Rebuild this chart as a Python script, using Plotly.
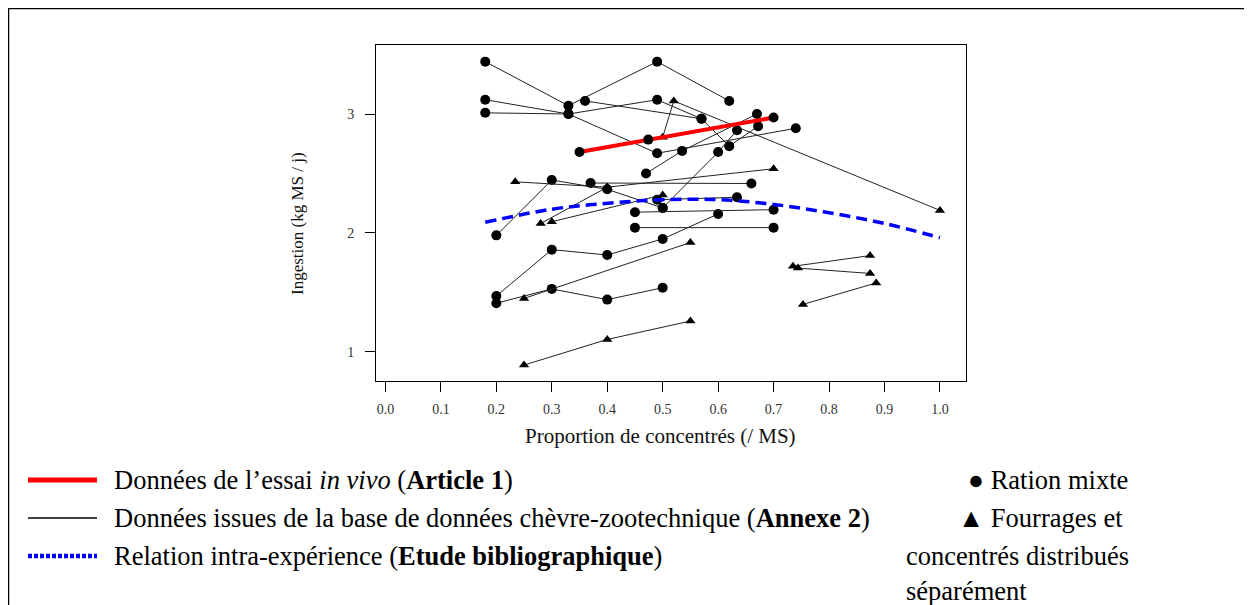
import plotly.graph_objects as go

# page is offset by the 8px body margin; figure fills the rest
OFF = 8
W, H = 1244, 597

# ---------------- data ----------------
# Ration mixte (circles) experiments
mix_a_x = [0.18, 0.33, 0.49, 0.62];             mix_a_y = [3.44, 3.07, 3.44, 3.11]
mix_b_x = [0.18, 0.33, 0.49, 0.74];             mix_b_y = [3.12, 3.00, 2.67, 2.88]
mix_c_x = [0.18, 0.33, 0.49, 0.57, 0.62, 0.672]; mix_c_y = [3.01, 3.00, 3.12, 2.96, 2.73, 2.897]
mix_d_x = [0.36, 0.57];                         mix_d_y = [3.11, 2.96]
mix_e_x = [0.47, 0.535, 0.67];                  mix_e_y = [2.50, 2.69, 3.00]
mix_f_x = [0.50, 0.60, 0.634];                  mix_f_y = [2.21, 2.68, 2.864]
mix_h_x = [0.20, 0.30, 0.40, 0.50, 0.60];       mix_h_y = [1.47, 1.86, 1.815, 1.95, 2.16]
mix_i_x = [0.20, 0.30, 0.40, 0.50];             mix_i_y = [1.41, 1.53, 1.44, 1.54]
mix_j_x = [0.20, 0.30, 0.40, 0.50];             mix_j_y = [1.98, 2.445, 2.367, 2.21]
mix_k_x = [0.37, 0.66];                         mix_k_y = [2.42, 2.416]
mix_l_x = [0.45, 0.70];                         mix_l_y = [2.175, 2.196]
mix_m_x = [0.45, 0.70];                         mix_m_y = [2.045, 2.045]
mix_n_x = [0.49, 0.634];                        mix_n_y = [2.28, 2.30]

# Fourrages et concentres distribues separement (triangles)
sep_a_x = [0.25, 0.40, 0.55];       sep_a_y = [0.89, 1.105, 1.26]
sep_b_x = [0.25, 0.55];             sep_b_y = [1.45, 1.92]
sep_c_x = [0.50, 0.52, 1.00];       sep_c_y = [2.805, 3.11, 2.19]
sep_d_x = [0.234, 0.40];            sep_d_y = [2.43, 2.385]
sep_e_x = [0.28, 0.40, 0.70];       sep_e_y = [2.08, 2.385, 2.54]
sep_f_x = [0.30, 0.50];             sep_f_y = [2.095, 2.32]
sep_h_x = [0.735, 0.874];           sep_h_y = [1.72, 1.81]
sep_i_x = [0.744, 0.874];           sep_i_y = [1.705, 1.66]
sep_j_x = [0.753, 0.885];           sep_j_y = [1.40, 1.58]

# Article 1 (in vivo trial)
art_x = [0.35, 0.474, 0.70]; art_y = [2.68, 2.785, 2.97]

# Intra-experiment relation (bibliographic study)
rel_x = [0.18, 0.30, 0.40, 0.50, 0.60, 0.70, 0.80, 0.90, 1.00]
rel_y = [2.09, 2.20, 2.25, 2.28, 2.28, 2.24, 2.17, 2.08, 1.96]

x_ticks = [0.0, 0.1, 0.2, 0.3, 0.4, 0.5, 0.6, 0.7, 0.8, 0.9, 1.0]
x_tick_text = ["0.0", "0.1", "0.2", "0.3", "0.4", "0.5", "0.6", "0.7", "0.8", "0.9", "1.0"]
y_ticks = [1, 2, 3]

mix_series = [(mix_a_x, mix_a_y), (mix_b_x, mix_b_y), (mix_c_x, mix_c_y), (mix_d_x, mix_d_y),
              (mix_e_x, mix_e_y), (mix_f_x, mix_f_y), (mix_h_x, mix_h_y),
              (mix_i_x, mix_i_y), (mix_j_x, mix_j_y), (mix_k_x, mix_k_y), (mix_l_x, mix_l_y),
              (mix_m_x, mix_m_y), (mix_n_x, mix_n_y)]
sep_series = [(sep_a_x, sep_a_y), (sep_b_x, sep_b_y), (sep_c_x, sep_c_y), (sep_d_x, sep_d_y),
              (sep_e_x, sep_e_y), (sep_f_x, sep_f_y), (sep_h_x, sep_h_y),
              (sep_i_x, sep_i_y), (sep_j_x, sep_j_y)]

# ---------------- layout helpers (page pixels -> paper) ----------------
def px(x):
    return (x - OFF) / W

def py(y):
    return 1 - (y - OFF) / H

PL, PR, PT, PB = 376, 966, 45, 381
SERIF = "Liberation Serif, Times New Roman, serif"

fig = go.Figure()

for sx, sy in mix_series:
    fig.add_trace(go.Scatter(x=sx, y=sy, mode="lines+markers",
                             line=dict(color="#222222", width=1),
                             marker=dict(symbol="circle", size=10, color="black"),
                             showlegend=False, hoverinfo="skip"))
for sx, sy in sep_series:
    fig.add_trace(go.Scatter(x=sx, y=sy, mode="lines+markers",
                             line=dict(color="#222222", width=1),
                             marker=dict(symbol="triangle-up", size=9, color="black"),
                             showlegend=False, hoverinfo="skip"))

fig.add_trace(go.Scatter(x=art_x, y=art_y, mode="lines",
                         line=dict(color="#ff0000", width=4),
                         showlegend=False, hoverinfo="skip"))
fig.add_trace(go.Scatter(x=art_x, y=art_y, mode="markers",
                         marker=dict(symbol="circle", size=10, color="black"),
                         showlegend=False, hoverinfo="skip"))
fig.add_trace(go.Scatter(x=rel_x, y=rel_y, mode="lines", line_shape="spline",
                         line=dict(color="#0000ff", width=3.5, dash="11px,6px"),
                         showlegend=False, hoverinfo="skip"))

fig.update_layout(
    width=W, height=H,
    margin=dict(l=0, r=0, t=0, b=0),
    paper_bgcolor="white", plot_bgcolor="white",
    showlegend=False,
    xaxis=dict(domain=[px(PL), px(PR)], range=[-0.017, 1.047],
               tickvals=x_ticks, ticktext=x_tick_text,
               ticks="outside", ticklen=10, tickcolor="black", tickwidth=1,
               showline=True, mirror=True, linecolor="black", linewidth=1,
               showgrid=False, zeroline=False,
               tickfont=dict(family=SERIF, size=14, color="#333333"),
               ticklabelstandoff=5),
    yaxis=dict(domain=[py(PB), py(PT)], range=[0.756, 3.58],
               tickvals=y_ticks, ticks="outside", ticklen=10, tickcolor="black", tickwidth=1,
               showline=True, mirror=True, linecolor="black", linewidth=1,
               showgrid=False, zeroline=False,
               tickfont=dict(family=SERIF, size=14, color="#333333"),
               ticklabelstandoff=8),
)

ann = []
ann.append(dict(x=px(660), y=py(436), xref="paper", yref="paper", text="Proportion de concentrés (/ MS)",
                showarrow=False, font=dict(family=SERIF, size=21, color="#111111"),
                xanchor="center", yanchor="middle"))
ann.append(dict(x=px(297), y=py(224), xref="paper", yref="paper", text="Ingestion (kg MS / j)",
                showarrow=False, textangle=-90, font=dict(family=SERIF, size=17, color="#111111"),
                xanchor="center", yanchor="middle"))

LF = 26.5
def legend_text(x, y, text):
    ann.append(dict(x=px(x), y=py(y), xref="paper", yref="paper", text=text,
                    showarrow=False, font=dict(family=SERIF, size=LF, color="black"),
                    xanchor="left", yanchor="middle"))

legend_text(112, 480, "Données de l’essai <i>in vivo</i> (<b>Article 1</b>)")
legend_text(112, 518, "Données issues de la base de données chèvre-zootechnique (<b>Annexe 2</b>)")
legend_text(112, 556, "Relation intra-expérience (<b>Etude bibliographique</b>)")
legend_text(966, 480, "● Ration mixte")
legend_text(956, 518, "▲ Fourrages et")
legend_text(904, 556, "concentrés distribués")
legend_text(904, 591, "séparément")
fig.update_layout(annotations=ann)

shapes = []
# outer frame
shapes.append(dict(type="rect", xref="paper", yref="paper", x0=px(8.5), x1=px(1245), y0=py(640), y1=py(8.5),
                   line=dict(color="black", width=1.5), fillcolor="rgba(0,0,0,0)"))
# legend line samples
shapes.append(dict(type="line", xref="paper", yref="paper", x0=px(28), x1=px(97), y0=py(480), y1=py(480),
                   line=dict(color="#ff0000", width=5)))
shapes.append(dict(type="line", xref="paper", yref="paper", x0=px(28), x1=px(97), y0=py(518), y1=py(518),
                   line=dict(color="black", width=1.5)))
shapes.append(dict(type="line", xref="paper", yref="paper", x0=px(28), x1=px(97), y0=py(556), y1=py(556),
                   line=dict(color="#0000ff", width=4.5, dash="4px,2px")))
fig.update_layout(shapes=shapes)

fig.write_html("out.html")
